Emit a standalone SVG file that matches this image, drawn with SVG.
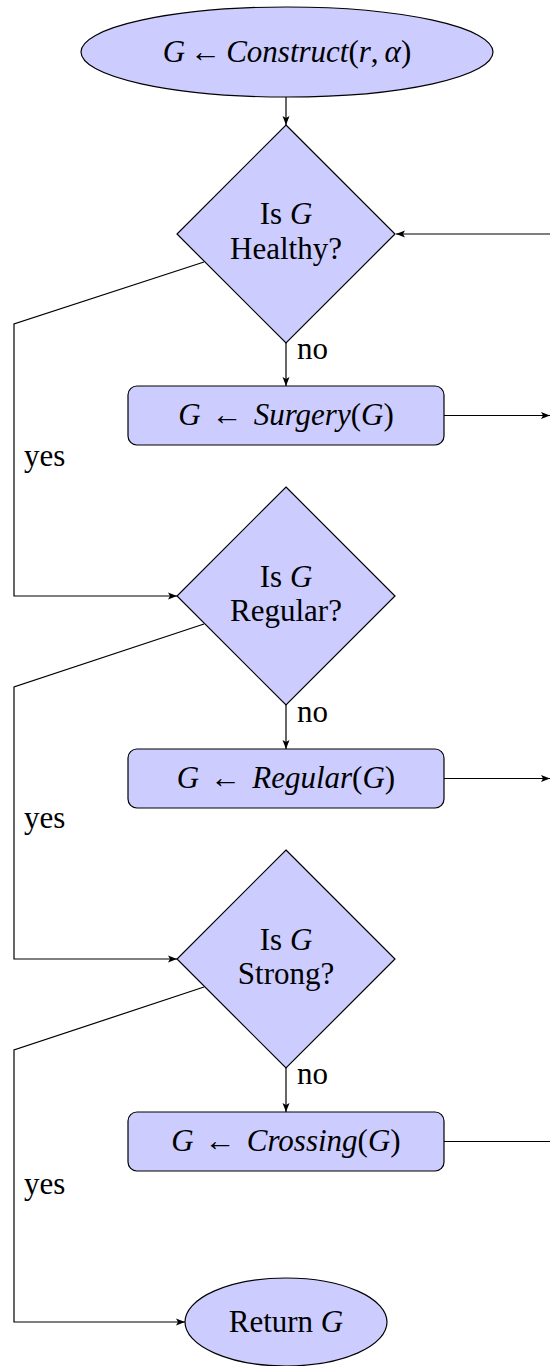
<svg xmlns="http://www.w3.org/2000/svg" width="550" height="1366" viewBox="0 0 550 1366">
<style>
.node{fill:#ccccff;stroke:#000;stroke-width:1.2}
.edge{fill:none;stroke:#000;stroke-width:1.2}
text{font-family:'Liberation Serif','Times New Roman',serif;font-size:31px;fill:#000}
.c{text-anchor:middle}
.i{font-style:italic}
</style>
<defs>
<marker id="arr" markerWidth="10" markerHeight="8" refX="9" refY="4" orient="auto" markerUnits="userSpaceOnUse">
<path d="M0,0.5 L9,4 L0,7.5 L2,4 z" fill="#000"/>
</marker>
</defs>
<g id="edges">
<path class="edge" d="M286,97 L286,125" marker-end="url(#arr)"/>
<path class="edge" d="M286,343 L286,386" marker-end="url(#arr)"/>
<path class="edge" d="M444,415.5 L550,415.5" marker-end="url(#arr)"/>
<path class="edge" d="M550,234 L396,234" marker-end="url(#arr)"/>
<path class="edge" d="M204,262 L14,324 L14,596 L177,596" marker-end="url(#arr)"/>
<path class="edge" d="M286,705 L286,749" marker-end="url(#arr)"/>
<path class="edge" d="M444,778.5 L550,778.5" marker-end="url(#arr)"/>
<path class="edge" d="M204,624 L14,687 L14,959 L177,959" marker-end="url(#arr)"/>
<path class="edge" d="M286,1068 L286,1112" marker-end="url(#arr)"/>
<path class="edge" d="M444,1141.5 L550,1141.5"/>
<path class="edge" d="M204,987 L14,1050 L14,1322 L185,1322" marker-end="url(#arr)"/>
<text x="297" y="359">no</text>
<text x="297" y="722">no</text>
<text x="297" y="1084">no</text>
<text x="24" y="466">yes</text>
<text x="24" y="828">yes</text>
<text x="24" y="1194">yes</text>
</g>
<g id="start">
<ellipse class="node" cx="287" cy="52" rx="206" ry="45"/>
<text class="c" x="287" y="62"><tspan class="i">G</tspan><tspan dx="5">←</tspan><tspan class="i" dx="5">Construct</tspan>(<tspan class="i">r</tspan>,<tspan class="i" dx="6">α</tspan>)</text>
</g>
<g id="healthy">
<polygon class="node" points="286,125 395,234 286,343 177,234"/>
<text class="c" x="286" y="224">Is <tspan class="i">G</tspan></text>
<text class="c" x="286" y="259">Healthy?</text>
</g>
<g id="surgery">
<rect class="node" x="128" y="386" width="316" height="59" rx="9"/>
<text class="c" x="286" y="425"><tspan class="i">G</tspan><tspan dx="11">←</tspan><tspan class="i" dx="11">Surgery</tspan>(<tspan class="i">G</tspan>)</text>
</g>
<g id="regularQ">
<polygon class="node" points="286,487 395,596 286,705 177,596"/>
<text class="c" x="286" y="587">Is <tspan class="i">G</tspan></text>
<text class="c" x="286" y="621">Regular?</text>
</g>
<g id="regular">
<rect class="node" x="128" y="749" width="316" height="59" rx="9"/>
<text class="c" x="286" y="788"><tspan class="i">G</tspan><tspan dx="11">←</tspan><tspan class="i" dx="11">Regular</tspan>(<tspan class="i">G</tspan>)</text>
</g>
<g id="strongQ">
<polygon class="node" points="286,850 395,959 286,1068 177,959"/>
<text class="c" x="286" y="950">Is <tspan class="i">G</tspan></text>
<text class="c" x="286" y="984">Strong?</text>
</g>
<g id="crossing">
<rect class="node" x="128" y="1112" width="316" height="59" rx="9"/>
<text class="c" x="286" y="1151"><tspan class="i">G</tspan><tspan dx="11">←</tspan><tspan class="i" dx="11">Crossing</tspan>(<tspan class="i">G</tspan>)</text>
</g>
<g id="return">
<ellipse class="node" cx="286" cy="1322" rx="101" ry="44"/>
<text class="c" x="286" y="1332">Return <tspan class="i">G</tspan></text>
</g>
</svg>
